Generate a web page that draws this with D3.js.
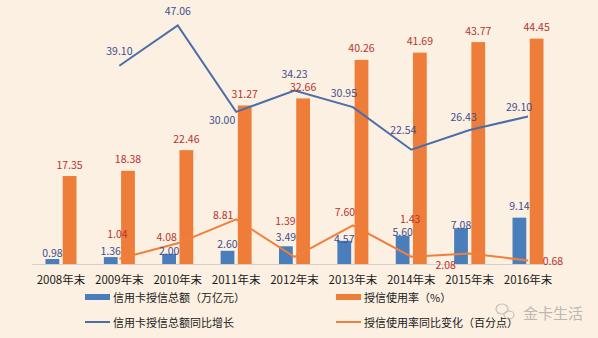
<!DOCTYPE html>
<html><head><meta charset="utf-8">
<script src="https://cdn.jsdelivr.net/npm/d3@7"></script>
<style>
html,body{margin:0;padding:0;background:#fcf0e2;}
svg{display:block;}
text{font-family:"Noto Sans CJK SC","Noto Sans",sans-serif;}
</style></head>
<body>
<svg id="chart" width="598" height="338"></svg>
<script>
const categories = ['2008年末','2009年末','2010年末','2011年末','2012年末','2013年末','2014年末','2015年末','2016年末'];
const creditTotal = [0.98,1.36,2.00,2.60,3.49,4.57,5.60,7.08,9.14];
const usageRate = [17.35,18.38,22.46,31.27,32.66,40.26,41.69,43.77,44.45];
const creditGrowth = [null,39.10,47.06,30.00,34.23,30.95,22.54,26.43,29.10];
const usageChange = [null,1.04,4.08,8.81,1.39,7.60,1.43,2.08,0.68];
const legendLabels = ['信用卡授信总额（万亿元）','授信使用率（%）','信用卡授信总额同比增长','授信使用率同比变化（百分点）'];

// label placement (styling, relative to marks)
const growthLabelOffset = [null,[0,-15],[0,-15],[-14,8],[0,-17],[-9,-15],[-8,-20],[-6,-13],[-9,-10]];
const changeLabelOffset = [null,[-2,-25],[-11,-7],[-13,-5],[-9,-36],[-8,-14],[-1,-38],[-24,11],[25,0]];
const totalLabelOffset = [-7,-7,-3,-7,-10,-2,-4,-4,-12];

const C = {
  blueBar:'#4a7ebb', orangeBar:'#ef7d3a', blueLine:'#4b6ea8', orangeLine:'#f07f3c',
  blueText:'#3c4f8e', redText:'#b8322f', axis:'#d6d0c8', text:'#1a1a1a'
};

const svg = d3.select('#chart');
const x = d3.scaleBand().domain(categories).range([31.8, 557.2]);
const bw = x.bandwidth();
const sub = d3.scaleBand().domain(['total','rate']).range([bw/2-15.5, bw/2+15.5]).paddingInner(0.2);
const y = d3.scaleLinear().domain([0,50]).range([264, 10.5]);
const cx = c => x(c) + bw/2;

// axis
const xAxis = d3.axisBottom(x).tickSize(0).tickPadding(12);
const ax = svg.append('g').attr('transform',`translate(0,${y(0)})`).call(xAxis);
ax.select('.domain').attr('stroke',C.axis).attr('stroke-width',1);
ax.selectAll('text').attr('font-size','11.5px').attr('fill',C.text)
  .style('font-family','"Noto Sans CJK SC",sans-serif');

// bars
svg.append('g').selectAll('rect').data(categories).join('rect')
  .attr('x',(c)=>x(c)+sub('total')).attr('width',sub.bandwidth())
  .attr('y',(c,i)=>y(creditTotal[i])).attr('height',(c,i)=>y(0)-y(creditTotal[i]))
  .attr('fill',C.blueBar);
svg.append('g').selectAll('rect').data(categories).join('rect')
  .attr('x',(c)=>x(c)+sub('rate')).attr('width',sub.bandwidth())
  .attr('y',(c,i)=>y(usageRate[i])).attr('height',(c,i)=>y(0)-y(usageRate[i]))
  .attr('fill',C.orangeBar);

// lines
const lineGen = arr => d3.line()
  .defined((c,i)=>arr[i]!=null)
  .x(c=>cx(c)).y((c,i)=>y(arr[i]));
svg.append('path').datum(categories).attr('d',lineGen(usageChange))
  .attr('fill','none').attr('stroke',C.orangeLine).attr('stroke-width',2);
svg.append('path').datum(categories).attr('d',lineGen(creditGrowth))
  .attr('fill','none').attr('stroke',C.blueLine).attr('stroke-width',2);

const fmt = d3.format('.2f');
const lbl = svg.append('g').attr('font-size','10.5px').attr('text-anchor','middle').attr('dominant-baseline','central');

// bar labels
lbl.selectAll('.tl').data(categories).join('text')
  .attr('x',c=>x(c)+sub('total')+sub.bandwidth()/2)
  .attr('y',(c,i)=>y(creditTotal[i])+totalLabelOffset[i])
  .attr('fill',C.blueText).text((c,i)=>fmt(creditTotal[i]));
lbl.selectAll('.rl').data(categories).join('text')
  .attr('x',c=>x(c)+sub('rate')+sub.bandwidth()/2)
  .attr('y',(c,i)=>y(usageRate[i])-12)
  .attr('fill',C.redText).text((c,i)=>fmt(usageRate[i]));

// line labels
categories.forEach((c,i)=>{
  if(creditGrowth[i]!=null){
    lbl.append('text').attr('x',cx(c)+growthLabelOffset[i][0]).attr('y',y(creditGrowth[i])+growthLabelOffset[i][1])
      .attr('fill',C.blueText).text(fmt(creditGrowth[i]));
  }
  if(usageChange[i]!=null){
    lbl.append('text').attr('x',cx(c)+changeLabelOffset[i][0]).attr('y',y(usageChange[i])+changeLabelOffset[i][1])
      .attr('fill',C.redText).text(fmt(usageChange[i]));
  }
});

// legend
const lg = svg.append('g').attr('font-size','11px').attr('fill',C.text);
const items = [
  {t:legendLabels[0], kind:'rect', col:C.blueBar, x:85, y:297},
  {t:legendLabels[1], kind:'rect', col:C.orangeBar, x:336, y:297},
  {t:legendLabels[2], kind:'line', col:C.blueLine, x:85, y:322},
  {t:legendLabels[3], kind:'line', col:C.orangeLine, x:336, y:322}
];
items.forEach(d=>{
  if(d.kind==='rect') lg.append('rect').attr('x',d.x).attr('y',d.y-3).attr('width',25).attr('height',6).attr('fill',d.col);
  else lg.append('line').attr('x1',d.x).attr('x2',d.x+25).attr('y1',d.y).attr('y2',d.y).attr('stroke',d.col).attr('stroke-width',2);
  lg.append('text').attr('x',d.x+28).attr('y',d.y).attr('dominant-baseline','central').text(d.t);
});

// watermark
const wm = svg.append('g').attr('opacity',0.55);
wm.append('ellipse').attr('cx',502).attr('cy',309).attr('rx',6).attr('ry',5).attr('fill','none').attr('stroke','#9a9a9a').attr('stroke-width',1.2);
wm.append('ellipse').attr('cx',509).attr('cy',315).attr('rx',5).attr('ry',4).attr('fill','none').attr('stroke','#9a9a9a').attr('stroke-width',1.2);
wm.append('text').attr('x',523).attr('y',312).attr('dominant-baseline','central').attr('font-size','15px').attr('fill','#8a8a8a').text('金卡生活');
</script>
</body></html>
